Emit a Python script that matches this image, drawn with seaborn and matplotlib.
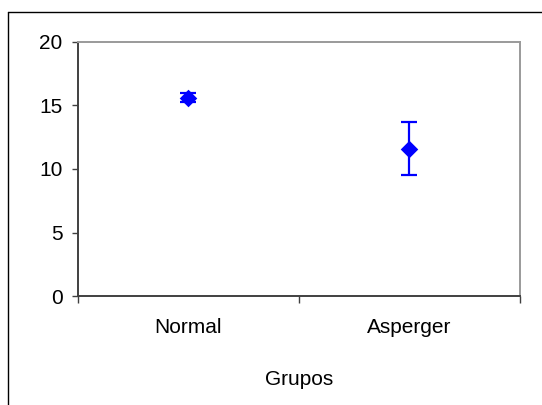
import matplotlib
matplotlib.use("Agg")
import matplotlib.pyplot as plt
import seaborn as sns
import pandas as pd
from matplotlib.lines import Line2D

categories = ["Normal", "Asperger"]
means = [15.6, 11.6]
errors = [0.35, 2.1]
yticks = [0, 5, 10, 15, 20]
xlabel = "Grupos"

sns.set_style("white")
plt.rcParams['font.family'] = ['Liberation Sans', 'DejaVu Sans']

fig = plt.figure(figsize=(5.42, 4.05), dpi=100)
ax = fig.add_axes([78/542, 1-296/405, (520-78)/542, (296-42)/405])

df = pd.DataFrame({"Grupo": categories, "Media": means, "Err": errors})

ax.errorbar(df["Grupo"], df["Media"], yerr=df["Err"], fmt="none",
            ecolor="#0000FF", elinewidth=1.6, capsize=6, capthick=1.6, zorder=2)
sns.scatterplot(data=df, x="Grupo", y="Media", marker="D", s=80,
                color="#0000FF", edgecolor="#0000FF", linewidth=0, ax=ax, zorder=3)

fs = 15
ax.set_xlim(-0.5, 1.5)
ax.set_ylim(0, 20)
ax.set_yticks(yticks)
ax.set_xticks([0, 1])
ax.set_xticklabels(categories)
ax.set_xticks([-0.5, 0.5, 1.5], minor=True)
ax.tick_params(axis="x", which="major", length=0, pad=16, labelsize=fs, labelcolor="black")
ax.tick_params(axis="x", which="minor", length=5, width=1, color="#404040", direction="out", bottom=True)
ax.tick_params(axis="y", length=4.5, width=1, color="#404040", direction="out", left=True,
               labelsize=fs, pad=6.5, labelcolor="black")
ax.set_xlabel(xlabel, fontsize=fs, labelpad=23.5, color="black")
ax.set_ylabel("")

for side in ["left", "bottom"]:
    ax.spines[side].set_color("#404040")
    ax.spines[side].set_linewidth(1.4)
for side in ["top", "right"]:
    ax.spines[side].set_visible(True)
    ax.spines[side].set_color("#9A9A9A")
    ax.spines[side].set_linewidth(1.4)

x0, y0 = 7.5/542, 1 - 12/405
fig.add_artist(Line2D([x0, 1.05], [y0, y0], transform=fig.transFigure, color="black", linewidth=1.0))
fig.add_artist(Line2D([x0, x0], [-0.05, y0], transform=fig.transFigure, color="black", linewidth=1.0))

fig.savefig("out.png", dpi=100)
